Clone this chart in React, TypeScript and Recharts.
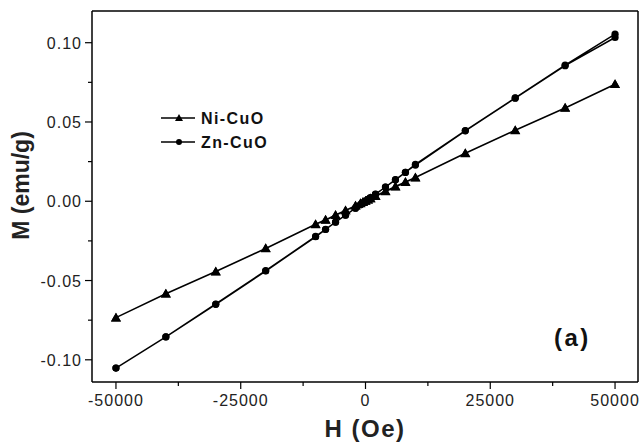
import { LineChart, Line, XAxis, YAxis, ReferenceLine } from "recharts";

const fieldDown = [50000, 40000, 30000, 20000, 10000, 8000, 6000, 4000, 2000, 1000, 500, 0, -500, -1000, -2000, -4000, -6000, -8000, -10000, -20000, -30000, -40000, -50000];
const fieldUp = [...fieldDown].reverse();

const niDown = [0.0738, 0.0589, 0.0448, 0.0303, 0.015, 0.0122, 0.0093, 0.0063, 0.0033, 0.0018, 0.001, 0.0002, -0.0006, -0.0014, -0.0029, -0.0059, -0.0088, -0.0118, -0.0146, -0.0298, -0.0444, -0.0584, -0.0734];
const niUp = [-0.0734, -0.0583, -0.0443, -0.0297, -0.0145, -0.0117, -0.0087, -0.0058, -0.0028, -0.0013, -0.0005, 0.0001, 0.0009, 0.0017, 0.0031, 0.0061, 0.0091, 0.012, 0.0149, 0.0302, 0.0447, 0.0588, 0.0738];

const znDown = [0.1033, 0.0855, 0.065, 0.0444, 0.0228, 0.0183, 0.0136, 0.009, 0.0044, 0.0022, 0.0011, 0.0, -0.0011, -0.0022, -0.0044, -0.0088, -0.0132, -0.0178, -0.0224, -0.044, -0.065, -0.0856, -0.1052];
const znUp = [-0.1052, -0.0855, -0.0648, -0.0438, -0.0222, -0.0177, -0.0131, -0.0087, -0.0043, -0.0021, -0.001, 0.0001, 0.0012, 0.0023, 0.0045, 0.009, 0.0135, 0.0182, 0.0232, 0.0446, 0.0652, 0.0858, 0.1054];

const xTicks = [-50000, -37500, -25000, -12500, 0, 12500, 25000, 37500, 50000];
const yTicks = [-0.1, -0.075, -0.05, -0.025, 0, 0.025, 0.05, 0.075, 0.1];

const xDomain = [-54800, 54600];
const yDomain = [-0.114, 0.12];

// hysteresis loop: down branch then back up
const loop = (down: number[], up: number[]) => [
  ...fieldDown.map((h, i) => ({ h, m: down[i] })),
  ...fieldUp.map((h, i) => ({ h, m: up[i] })),
];
const niData = loop(niDown, niUp);
const znData = loop(znDown, znUp);

const FONT = '"Liberation Sans", Arial, sans-serif';

const isMajorX = (v: number) => Math.abs(v) % 25000 === 0;
const isMajorY = (v: number) => Math.abs(Math.round(v * 1000)) % 50 === 0;

const XTick = ({ x, y, payload }: any) => {
  const major = isMajorX(payload.value);
  return (
    <g>
      <line x1={x} x2={x} y1={y} y2={y + (major ? 7 : 4)} stroke="#000" strokeWidth={1.2} />
      {major && (
        <text x={x} y={y + 24} textAnchor="middle" fontSize={16} letterSpacing={1} fontFamily={FONT} fill="#222">
          {payload.value}
        </text>
      )}
    </g>
  );
};

const YTick = ({ x, y, payload }: any) => {
  const major = isMajorY(payload.value);
  return (
    <g>
      <line x1={x} x2={x - (major ? 7 : 4)} y1={y} y2={y} stroke="#000" strokeWidth={1.2} />
      {major && (
        <text x={x - 10} y={y + 6} textAnchor="end" fontSize={16} letterSpacing={1} fontFamily={FONT} fill="#222">
          {payload.value.toFixed(2)}
        </text>
      )}
    </g>
  );
};

const Triangle = ({ cx, cy, size = 5 }: any) => (
  <path d={`M${cx},${cy - size} L${cx + size},${cy + size * 0.75} L${cx - size},${cy + size * 0.75} Z`} fill="#000" />
);

const renderTri = (p: any) => <Triangle key={`t-${p.index}`} cx={p.cx} cy={p.cy} />;
const renderDot = (p: any) => <circle key={`c-${p.index}`} cx={p.cx} cy={p.cy} r={3.6} fill="#000" />;

const LegendBox = () => (
  <svg width={130} height={50}>
    <line x1={1} x2={35} y1={10} y2={10} stroke="#000" strokeWidth={1.5} />
    <Triangle cx={19} cy={10} size={4} />
    <text x={41} y={16} fontSize={16} fontWeight="bold" letterSpacing={1.4} fontFamily={FONT} fill="#111">Ni-CuO</text>
    <line x1={1} x2={35} y1={34} y2={34} stroke="#000" strokeWidth={1.5} />
    <circle cx={19} cy={34} r={3} fill="#000" />
    <text x={41} y={40} fontSize={16} fontWeight="bold" letterSpacing={1.4} fontFamily={FONT} fill="#111">Zn-CuO</text>
  </svg>
);

export default function App() {
  return (
    <div style={{ position: "absolute", left: 0, top: 0, width: 641, height: 443, background: "#fff" }}>
      <LineChart width={641} height={443} margin={{ top: 11, right: 3, left: 12, bottom: 21 }}>
        <XAxis
          dataKey="h"
          type="number"
          domain={xDomain}
          ticks={xTicks}
          interval={0}
          tick={<XTick />}
          tickLine={false}
          tickSize={0}
          tickMargin={0}
          height={40}
          axisLine={{ stroke: "#000", strokeWidth: 1.5 }}
          allowDataOverflow
          label={{ value: "H (Oe)", position: "insideBottom", offset: -15, fontSize: 24, fontWeight: "bold", fontFamily: FONT, fill: "#222", letterSpacing: 1.5 } as any}
        />
        <YAxis
          dataKey="m"
          type="number"
          domain={yDomain}
          ticks={yTicks}
          interval={0}
          tick={<YTick />}
          tickLine={false}
          tickSize={0}
          tickMargin={0}
          width={80}
          axisLine={{ stroke: "#000", strokeWidth: 1.5 }}
          allowDataOverflow
          label={{ value: "M (emu/g)", angle: -90, position: "insideLeft", offset: 0, dx: 9, dy: -11, style: { textAnchor: "middle" }, fontSize: 23, fontWeight: "bold", fontFamily: FONT, fill: "#222" } as any}
        />
        <ReferenceLine y={yDomain[1]} stroke="#000" strokeWidth={1.5} />
        <ReferenceLine x={xDomain[1]} stroke="#000" strokeWidth={1.5} />
        <Line data={niData} dataKey="m" name="Ni-CuO" stroke="#000" strokeWidth={1.5} dot={renderTri} activeDot={false} isAnimationActive={false} />
        <Line data={znData} dataKey="m" name="Zn-CuO" stroke="#000" strokeWidth={1.5} dot={renderDot} activeDot={false} isAnimationActive={false} />
      </LineChart>
      <div style={{ position: "absolute", left: 160, top: 108 }}>
        <LegendBox />
      </div>
      <div style={{ position: "absolute", left: 554, top: 324, fontFamily: FONT, fontWeight: "bold", fontSize: 24, color: "#111", letterSpacing: 2.5 }}>
        (a)
      </div>
    </div>
  );
}
